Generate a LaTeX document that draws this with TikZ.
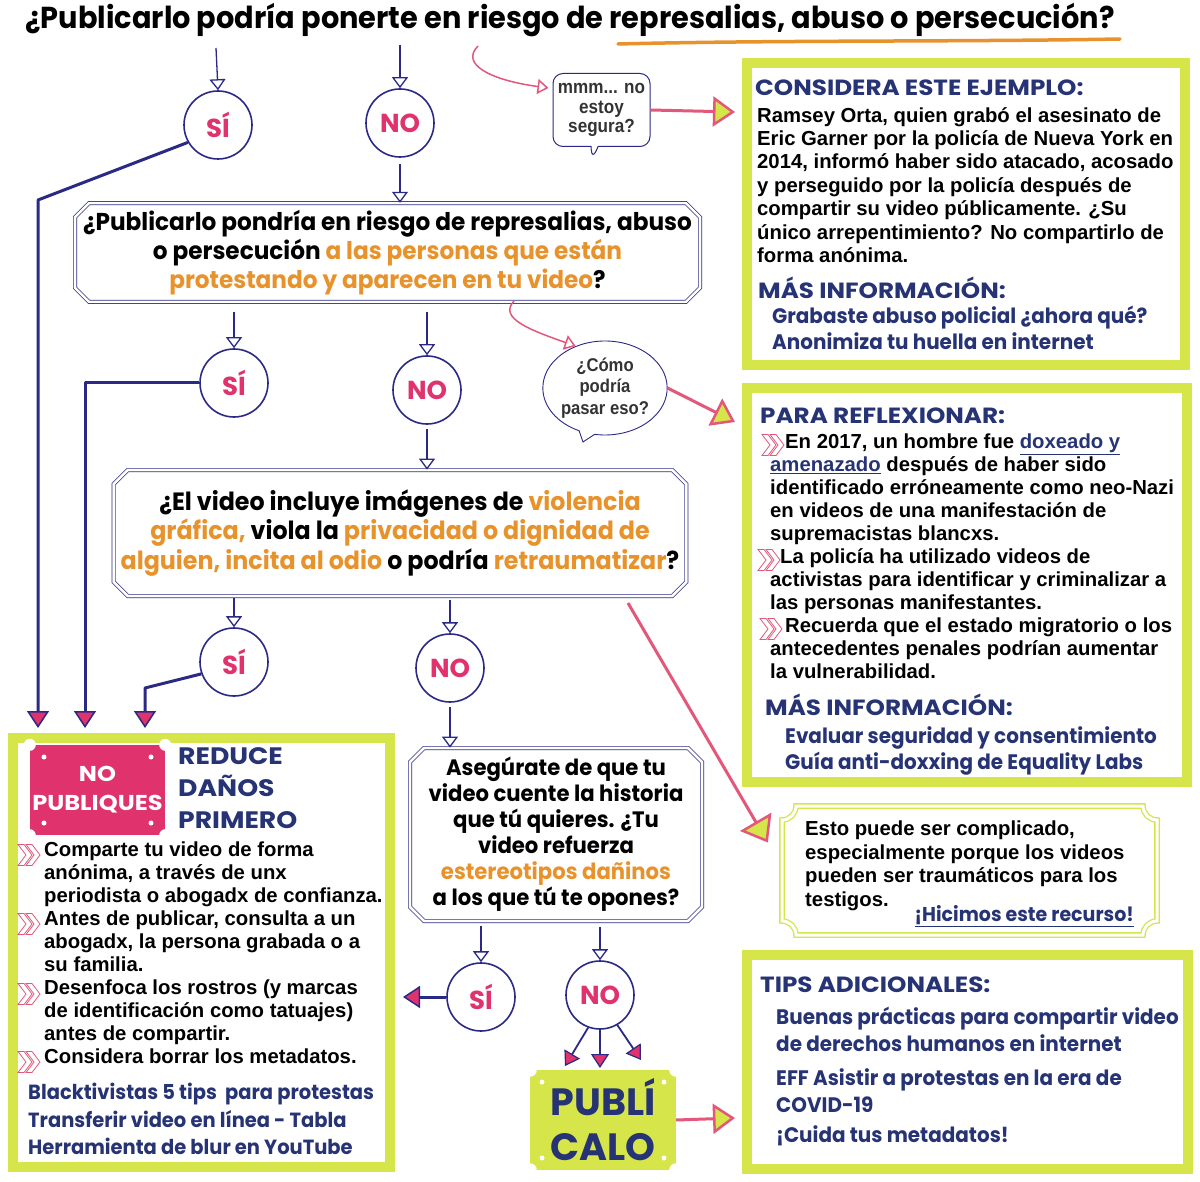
\documentclass[tikz,border=0pt]{standalone}
\usepackage{fontspec}
\setmainfont{Liberation Sans}
\newfontfamily\popc[FakeStretch=0.95]{Poppins}
\newfontfamily\popw{Poppins}
\newfontfamily\poph[FakeStretch=1.12]{Poppins}
\newfontfamily\arn[FakeStretch=0.9]{Liberation Sans}
\usetikzlibrary{shapes.misc,shapes.callouts,arrows.meta,calc}
\newcommand\myfs[2]{\fontsize{#1}{#2}\selectfont}
\definecolor{navyc}{HTML}{2A2A86}
\definecolor{headc}{HTML}{263374}
\definecolor{pinkc}{HTML}{E0336E}
\definecolor{parrow}{HTML}{E2577A}
\definecolor{limec}{HTML}{D5E54A}
\definecolor{orc}{HTML}{E8922C}
\tikzset{
 circ/.style={circle, draw=navyc, line width=1.6pt, fill=white, minimum size=68pt, inner sep=0pt, text=pinkc, font=\popw\bfseries\myfs{26}{26}},
 qbox/.style={chamfered rectangle, chamfered rectangle xsep=7pt, chamfered rectangle ysep=7pt, draw=navyc, line width=0.7pt, double=white, double distance=2.6pt, inner sep=0pt, align=center, text=black},
 flow/.style={draw=navyc, line width=1.3pt, -{Triangle[open, length=11pt, width=16pt, line width=1.3pt]}},
 sipath/.style={draw=navyc, line width=3pt, line join=round, -{Triangle[fill=pinkc, length=17pt, width=22pt, line width=1.5pt]}},
 pnav/.style={draw=navyc, line width=1.8pt, -{Triangle[fill=pinkc, length=14pt, width=18pt, line width=1.2pt]}},
 lar/.style={draw=parrow, line width=3pt, -{Triangle[fill=limec, length=22pt, width=30pt, line width=2.5pt]}},
 thinp/.style={draw=parrow, line width=1.5pt, -{Triangle[open, length=11pt, width=15pt, line width=1.5pt]}},
 limebox/.style={draw=limec, line width=10pt, fill=white, inner sep=0pt},
 heading/.style={font=\poph\bfseries\myfs{22}{24}, text=headc, inner sep=0pt, anchor=west},
 body/.style={font=\bfseries\myfs{20.3}{23.4}, align=left, inner sep=0pt, anchor=north west},
 linkt/.style={font=\popc\bfseries\myfs{21}{27}, text=headc, align=left, inner sep=0pt, anchor=north west},
 chevr/.pic={
  \draw[parrow, line width=0.8pt, line join=miter] (0,-10.5) -- (6,-10.5) -- (14,0) -- (6,10.5) -- (0,10.5) -- (8,0) -- cycle;
  \draw[parrow, line width=0.8pt, line join=miter] (8,-10.5) -- (14,-10.5) -- (22,0) -- (14,10.5) -- (8,10.5) -- (16,0) -- cycle;
 },
}
\begin{document}
\begin{tikzpicture}[x=1pt,y=-1pt]
\useasboundingbox (0,0) rectangle (1200,1182);
\fill[white] (0,0) rectangle (1200,1182);

% title
\node[font=\popc\bfseries\myfs{30.3}{34}, inner sep=0pt] (title) at (570,20) {¿Publicarlo podría ponerte en riesgo de represalias, abuso o persecución?};
\draw[orc, line width=3.5pt, line cap=round] (618,44) .. controls (780,40) and (950,42) .. (1120,39);

% lime boxes
\node[limebox, minimum width=438pt, minimum height=302pt] (box1) at (966,214) {};
\node[limebox, minimum width=440pt, minimum height=394pt] (box2) at (967,585) {};
\node[limebox, minimum width=441pt, minimum height=214pt] (box4) at (967.5,1062) {};
\node[limebox, minimum width=377pt, minimum height=429pt] (npbox) at (201.5,952.5) {};

% circles
\node[circ] (si1) at (218,125) {SÍ};
\node[circ] (no1) at (400,123) {NO};
\node[circ] (si2) at (234,383) {SÍ};
\node[circ] (no2) at (427,390) {NO};
\node[circ] (si3) at (234,662) {SÍ};
\node[circ] (no3) at (450,668) {NO};
\node[circ] (si4) at (481,997) {SÍ};
\node[circ] (no4) at (600,995) {NO};

% question boxes
\node[qbox, minimum width=625pt, minimum height=91pt, font=\popc\bfseries\myfs{24.4}{29}] (q2) at (387.5,252.5)
 {¿Publicarlo pondría en riesgo de represalias, abuso\\o persecución \textcolor{orc}{a las personas que están}\\\textcolor{orc}{protestando y aparecen en tu video}?};
\node[qbox, minimum width=570pt, minimum height=126pt, font=\popc\bfseries\myfs{25}{29.5}] (q3) at (400,533)
 {¿El video incluye imágenes de \textcolor{orc}{violencia}\\\textcolor{orc}{gráfica,} viola la \textcolor{orc}{privacidad o dignidad de}\\\textcolor{orc}{alguien, incita al odio} o podría \textcolor{orc}{retraumatizar}?};
\node[qbox, minimum width=292pt, minimum height=173pt, font=\popc\bfseries\myfs{22.3}{26}] (aseg) at (556,834.5)
 {Asegúrate de que tu\\video cuente la historia\\que tú quieres. ¿Tu\\video refuerza\\\textcolor{orc}{estereotipos dañinos}\\a los que tú te opones?};

% bubbles
\node[rectangle callout, rounded corners=10pt, draw=navyc, line width=1pt, fill=white, minimum width=97pt, minimum height=73pt, callout absolute pointer={(592,160)}, align=center, inner sep=0pt, text=black!80, font=\arn\bfseries\myfs{19}{19.5}] (bub1) at (601.5,110) {mmm... no\\estoy\\segura?};
\node[ellipse callout, draw=navyc, line width=0.9pt, fill=white, minimum width=116pt, minimum height=94pt, callout absolute pointer={(583,442)}, align=center, inner sep=0pt, text=black!80, font=\arn\bfseries\myfs{18.5}{21.5}] (bub2) at (605,388) {¿Cómo\\podría\\pasar eso?};

% flow arrows
\coordinate (t1) at (216,48);
\coordinate (t2) at (400,45);
\draw[flow] (t1) -- (si1.north);
\draw[flow] (t2) -- (no1.north);
\draw[flow] (no1.south) ++(0,6) -- (q2.north -| no1);
\draw[flow] ($(q2.south -| si2)+(0,10)$) -- (si2.north);
\draw[flow] ($(q2.south -| no2)+(0,10)$) -- (no2.north);
\draw[flow] ($(no2.south)+(0,4)$) -- (q3.north -| no2);
\draw[flow] ($(q3.south -| si3)+(0,2)$) -- (si3.north);
\draw[flow] ($(q3.south -| no3)+(0,4)$) -- (no3.north);
\draw[flow] ($(no3.south)+(0,4)$) -- (aseg.north -| no3);
\draw[flow] ($(aseg.south -| si4)+(0,5)$) -- (si4.north);
\draw[flow] ($(aseg.south -| no4)+(0,6)$) -- (no4.north);

% SI paths to NO PUBLIQUES
\coordinate (e1) at (38,728);
\coordinate (e2) at (85,728);
\coordinate (e3) at (145,728);
\draw[sipath] (si1.210) -- (38,200) -- (e1);
\draw[sipath] (si2.west) -| (e2);
\draw[sipath] (si3.200) -- (145,688) -- (e3);
\draw[sipath] (si4.west) -- ($(npbox.east |- si4.west)+(8,0)$);

% NO to PUBLICALO
\node[fill=limec, minimum width=146pt, minimum height=100pt, inner sep=0pt, align=center, text=headc, font=\popw\bfseries\myfs{38}{45}] (pub) at (603,1120) {PUBLÍ\\CALO};
\foreach \a in {north west, north east, south west, south east} {\fill[white] (pub.\a) circle (7);}
\foreach \p in {(542,1082),(664,1082),(542,1158),(664,1158)} {\fill[white] \p circle (2.5);}
\coordinate (p1) at (565,1066);
\coordinate (p2) at (600,1068);
\coordinate (p3) at (641,1060);
\draw[pnav] (no4.250) -- (p1);
\draw[pnav] (no4.south) -- (p2);
\draw[pnav] (no4.300) -- (p3);

% pink arrows
\coordinate (c1s) at (478,46);
\draw[thinp] (c1s) .. controls (460,64) and (490,80) .. ($(bub1.west)+(-4,-22)$);
\coordinate (c2s) at (514,301);
\draw[thinp] (c2s) .. controls (498,318) and (530,330) .. (bub2.125);
\draw[lar] (bub1.east) -- ($(box1.west |- bub1.east)+(-7,2)$);
\draw[lar] (bub2.east) -- ($(box2.west)+(-7,-163)$);
\draw[lar] (pub.east) -- ($(box4.west |- pub.east)+(-7,-2)$);

% box3
\node[inner sep=0pt, minimum width=375pt, minimum height=129pt] (box3) at (969.5,870.5) {};
\draw[limec, line width=1.3pt, double=white, double distance=3pt]
 (796,806) -- (1143,806) arc[start angle=180, end angle=90, radius=14] -- (1157,921) arc[start angle=270, end angle=180, radius=14]
 -- (796,935) arc[start angle=0, end angle=-90, radius=14] -- (782,820) arc[start angle=90, end angle=0, radius=14] -- cycle;
\coordinate (c3s) at (628,603);
\draw[lar, -{Triangle[fill=limec, length=24pt, width=36pt, line width=2.5pt]}] (c3s) -- ($(box3.west)+(-14,-28)$);
\node[body] (b3t) at (805,821) {Esto puede ser complicado,\\especialmente porque los videos\\pueden ser traumáticos para los\\testigos.};
\node[font=\popc\bfseries\myfs{20}{24}, text=headc, inner sep=0pt, anchor=east] (b3l) at (1134,916) {\underline{¡Hicimos este recurso!}};

% box1 content
\node[heading] (b1h) at (755,88) {CONSIDERA ESTE EJEMPLO:};
\node[body] (b1t) at (757,107) {Ramsey Orta, quien grabó el asesinato de\\Eric Garner por la policía de Nueva York en\\2014, informó haber sido atacado, acosado\\y perseguido por la policía después de\\compartir su video públicamente. ¿Su\\único arrepentimiento? No compartirlo de\\forma anónima.};
\node[heading] (b1m) at (758,288) {MÁS INFORMACIÓN:};
\node[linkt] (b1l) at (772,306) {Grabaste abuso policial ¿ahora qué?\\[-1pt]Anonimiza tu huella en internet};

% box2 content
\node[heading] (b2h) at (760,416) {PARA REFLEXIONAR:};
\node[body, font=\bfseries\myfs{20.3}{23}] (b2t) at (770,434) {\hspace*{15pt}En 2017, un hombre fue \textcolor{headc}{\underline{doxeado y}}\\\textcolor{headc}{\underline{amenazado}} después de haber sido\\identificado erróneamente como neo-Nazi\\en videos de una manifestación de\\supremacistas blancxs.\\\hspace*{10pt}La policía ha utilizado videos de\\activistas para identificar y criminalizar a\\las personas manifestantes.\\\hspace*{15pt}Recuerda que el estado migratorio o los\\antecedentes penales podrían aumentar\\la vulnerabilidad.};
\pic at (762,445) {chevr};
\pic at (758,560) {chevr};
\pic at (760,629) {chevr};
\node[heading] (b2m) at (765,705) {MÁS INFORMACIÓN:};
\node[linkt] (b2l) at (785,726) {Evaluar seguridad y consentimiento\\[-1pt]Guía anti-doxxing de Equality Labs};

% box4 content
\node[heading] (b4h) at (760,985) {TIPS ADICIONALES:};
\node[linkt] (b4a) at (776,1007) {Buenas prácticas para compartir video\\de derechos humanos en internet};
\node[linkt] (b4b) at (776,1068) {EFF Asistir a protestas en la era de\\COVID-19};
\node[linkt] (b4c) at (776,1125) {¡Cuida tus metadatos!};

% NO PUBLIQUES box content
\node[fill=pinkc, minimum width=135pt, minimum height=90pt, inner sep=0pt, align=center, text=white, font=\poph\bfseries\myfs{21.5}{29}] (npb) at (97.5,790) {NO\\PUBLIQUES};
\foreach \a in {north west, north east, south west, south east} {\fill[white] (npb.\a) circle (6);}
\foreach \p in {(44,757),(151,757),(44,823),(151,823)} {\fill[white] \p circle (2.5);}
\node[font=\poph\bfseries\myfs{23.8}{32}, text=headc, align=left, inner sep=0pt, anchor=north west] (red) at (178,747) {REDUCE\\DAÑOS\\PRIMERO};
\node[body, font=\bfseries\myfs{20.3}{23}] (npt) at (44,842) {Comparte tu video de forma\\anónima, a través de unx\\periodista o abogadx de confianza.\\Antes de publicar, consulta a un\\abogadx, la persona grabada o a\\su familia.\\Desenfoca los rostros (y marcas\\de identificación como tatuajes)\\antes de compartir.\\Considera borrar los metadatos.};
\pic at (18,855) {chevr};
\pic at (18,924) {chevr};
\pic at (18,994) {chevr};
\pic at (18,1062) {chevr};
\node[linkt, font=\popc\bfseries\myfs{20.5}{27.5}] (npl) at (28,1083) {Blacktivistas 5 tips\ \ para protestas\\Transferir video en línea - Tabla\\Herramienta de blur en YouTube};
\end{tikzpicture}
\end{document}
